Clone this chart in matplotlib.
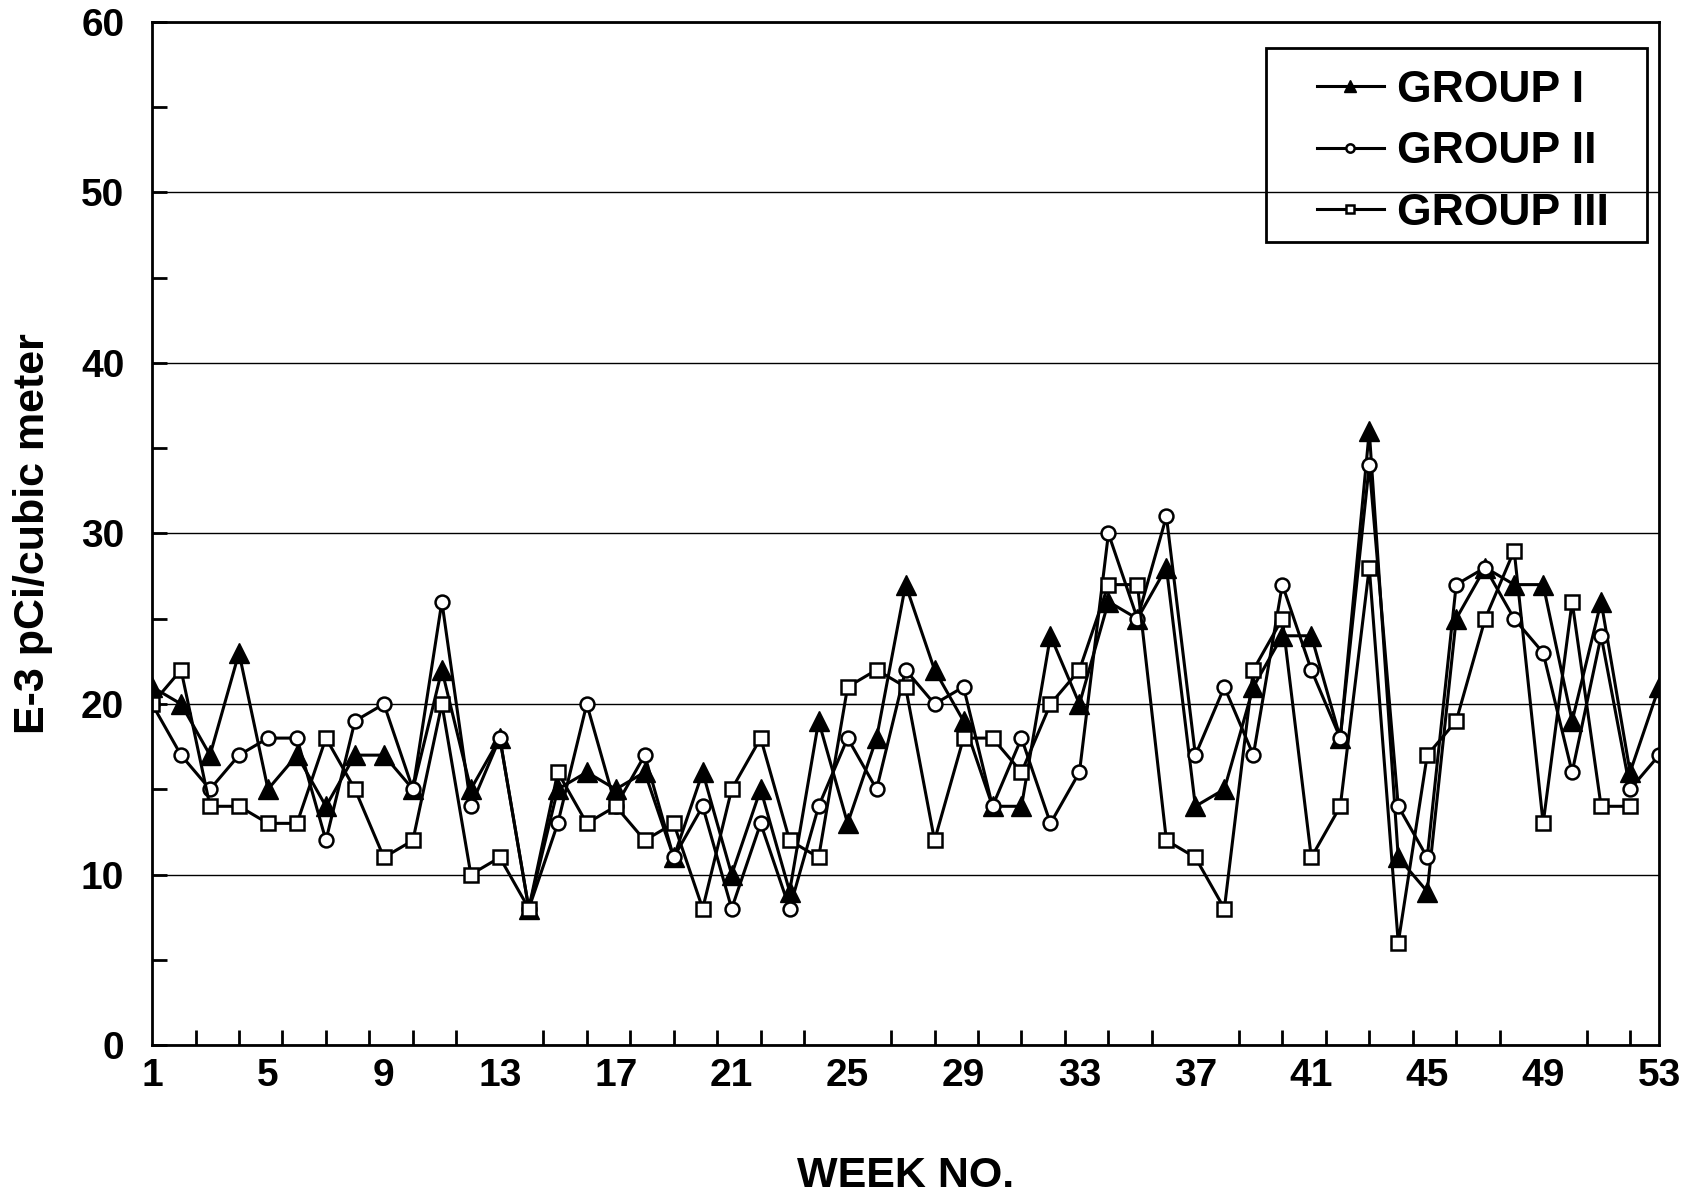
import numpy as np
import matplotlib
matplotlib.use('Agg')
import matplotlib.pyplot as plt
from matplotlib.patches import Rectangle
from matplotlib.ticker import MultipleLocator, FixedLocator

plt.rcParams['font.family'] = ['Liberation Sans', 'DejaVu Sans']
plt.rcParams['font.weight'] = 'bold'

# dados (E-3 pCi/m3 por semana)
semanas = np.arange(1, 54)
grupo1 = [21, 20, 17, 23, 15, 17, 14, 17, 17, 15, 22, 15, 18, 8, 15, 16, 15, 16, 11, 16,
          10, 15, 9, 19, 13, 18, 27, 22, 19, 14, 14, 24, 20, 26, 25, 28, 14, 15, 21, 24,
          24, 18, 36, 11, 9, 25, 28, 27, 27, 19, 26, 16, 21]
grupo2 = [20, 17, 15, 17, 18, 18, 12, 19, 20, 15, 26, 14, 18, 8, 13, 20, 14, 17, 11, 14,
          8, 13, 8, 14, 18, 15, 22, 20, 21, 14, 18, 13, 16, 30, 25, 31, 17, 21, 17, 27,
          22, 18, 34, 14, 11, 27, 28, 25, 23, 16, 24, 15, 17]
grupo3 = [20, 22, 14, 14, 13, 13, 18, 15, 11, 12, 20, 10, 11, 8, 16, 13, 14, 12, 13, 8,
          15, 18, 12, 11, 21, 22, 21, 12, 18, 18, 16, 20, 22, 27, 27, 12, 11, 8, 22, 25,
          11, 14, 28, 6, 17, 19, 25, 29, 13, 26, 14, 14, np.nan]
nomes = ['GROUP I', 'GROUP II', 'GROUP III']
rotulos_x = list(range(1, 54, 4))

fig = plt.figure(figsize=(16.84, 11.98), dpi=100)
ax = fig.add_axes([0.0903, 0.1277, 0.8949, 0.854])

ax.grid(axis='y', color='black', lw=1.0)
ax.set_axisbelow(True)

l1, = ax.plot(semanas, grupo1, color='black', lw=2.2, marker='^', ms=15,
              mfc='black', mec='black', label=nomes[0])
l2, = ax.plot(semanas, grupo2, color='black', lw=2.2, marker='o', ms=10,
              mfc='white', mec='black', mew=1.8, label=nomes[1])
l3, = ax.plot(semanas, grupo3, color='black', lw=2.2, marker='s', ms=9.5,
              mfc='white', mec='black', mew=1.8, label=nomes[2])

ax.set_xlim(1, 53)
ax.set_ylim(0, 60)
ax.xaxis.set_major_locator(FixedLocator(rotulos_x))
ax.xaxis.set_minor_locator(FixedLocator(np.arange(2.5, 53, 1.5)))
ax.yaxis.set_major_locator(MultipleLocator(10))
ax.yaxis.set_minor_locator(MultipleLocator(5))

ax.tick_params(axis='x', which='major', length=0, pad=9, labelsize=28)
ax.tick_params(axis='x', which='minor', direction='in', length=11, width=2)
ax.tick_params(axis='y', which='both', direction='in', length=11, width=2,
               pad=20, labelsize=28)
for s in ax.spines.values():
    s.set_linewidth(2)

ax.set_xlabel('WEEK NO.', fontsize=31, fontweight='bold')
ax.xaxis.set_label_coords(0.5, -0.108)
ax.set_ylabel('E-3 pCi/cubic meter', fontsize=31, fontweight='bold')
ax.yaxis.set_label_coords(-0.066, 0.5)

# caixa da legenda
ax.add_patch(Rectangle((0.739, 0.785), 0.253, 0.19, transform=ax.transAxes,
                       fill=False, lw=2, ec='black', zorder=5))
leg = ax.legend(handles=[l1, l2, l3], loc='upper left', bbox_to_anchor=(0.773, 0.953),
                frameon=False, borderpad=0, borderaxespad=0, labelspacing=0.46,
                handlelength=1.5, handletextpad=0.3, markerscale=0.6,
                prop={'size': 32, 'weight': 'bold'})

plt.savefig('out.png', dpi=100)
